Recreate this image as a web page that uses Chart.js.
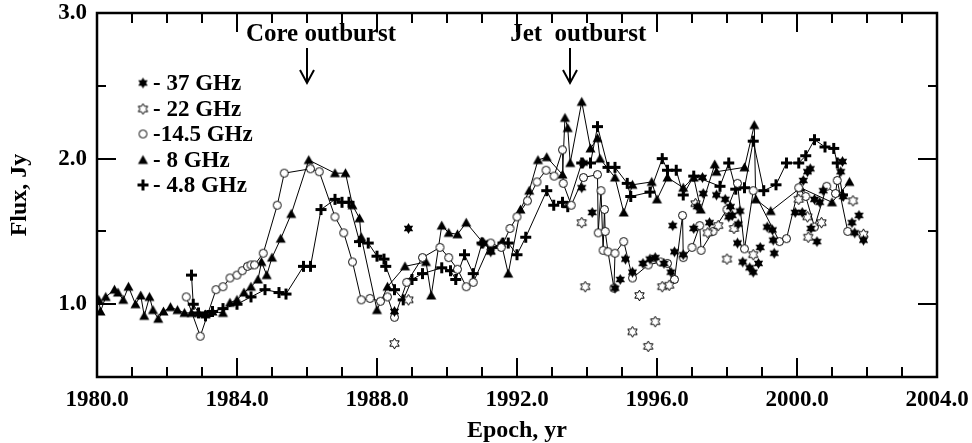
<!DOCTYPE html>
<html>
<head>
<meta charset="utf-8">
<script src="https://cdn.jsdelivr.net/npm/chart.js@4/dist/chart.umd.min.js"></script>
<style>
  html, body { margin: 0; padding: 0; background: #fff; }
</style>
</head>
<body>
<canvas id="fluxChart" width="972" height="443"></canvas>
<script>
// [epoch, flux Jy]
const ghz37 = [
  [1988.5,0.95],[1988.9,1.52],[1991.05,1.42],[1991.25,1.36],[1993.85,1.80],[1993.9,1.97],[1994.15,1.63],
  [1994.8,1.11],[1994.95,1.17],[1995.1,1.31],[1995.3,1.22],[1995.6,1.28],[1995.8,1.31],[1995.95,1.32],
  [1996.2,1.28],[1996.4,1.22],[1996.45,1.54],[1996.5,1.36],[1996.75,1.34],[1997.05,1.52],[1997.15,1.67],
  [1997.3,1.87],[1997.32,1.76],[1997.5,1.56],[1997.7,1.75],[1997.95,1.72],[1998.05,1.60],[1998.1,1.67],
  [1998.15,1.61],[1998.3,1.42],[1998.32,1.55],[1998.37,1.64],[1998.45,1.29],[1998.65,1.25],[1998.75,1.22],
  [1998.9,1.28],[1998.95,1.39],[1999.15,1.53],[1999.3,1.51],[1999.32,1.44],[1999.35,1.35],[1999.95,1.63],
  [2000.15,1.63],[2000.18,1.85],[2000.3,1.91],[2000.38,1.93],[2000.4,1.52],[2000.5,1.72],[2000.57,1.43],
  [2000.65,1.70],[2000.75,1.78],[2001.25,1.91],[2001.3,1.98],[2001.32,1.74],[2001.57,1.56],[2001.65,1.49],
  [2001.77,1.61],[2001.9,1.44]
];
const ghz22 = [
  [1988.5,0.73],[1988.9,1.03],[1993.85,1.56],[1993.95,1.12],[1995.3,0.81],[1995.5,1.06],[1995.75,0.71],
  [1995.95,0.88],[1996.15,1.12],[1996.35,1.13],[1997.1,1.69],[1997.45,1.49],[1997.75,1.54],[1998.0,1.31],
  [1998.2,1.52],[1998.75,1.34],[2000.05,1.72],[2000.3,1.60],[2000.32,1.46],[2000.7,1.56],[2001.6,1.71],
  [2001.9,1.48]
];
const ghz14 = [
  [1982.55,1.05],[1982.95,0.78],[1983.4,1.10],[1983.6,1.12],[1983.8,1.18],[1984.0,1.20],[1984.15,1.23],
  [1984.3,1.26],[1984.4,1.27],[1984.5,1.27],[1984.75,1.35],[1985.15,1.68],[1985.35,1.90],[1986.1,1.93],
  [1986.35,1.91],[1986.8,1.60],[1987.05,1.49],[1987.3,1.29],[1987.55,1.03],[1987.8,1.04],[1988.1,1.02],
  [1988.3,1.05],[1988.5,0.91],[1988.85,1.15],[1989.3,1.32],[1989.8,1.39],[1990.05,1.32],[1990.3,1.24],
  [1990.55,1.12],[1990.75,1.15],[1991.25,1.42],[1991.55,1.39],[1991.8,1.52],[1992.0,1.60],[1992.3,1.71],
  [1992.57,1.84],[1992.83,1.92],[1993.06,1.88],[1993.3,2.06],[1993.32,1.83],[1993.55,1.68],[1993.9,1.87],
  [1994.3,1.89],[1994.32,1.49],[1994.4,1.78],[1994.46,1.37],[1994.5,1.65],[1994.52,1.50],[1994.6,1.36],
  [1994.77,1.11],[1994.8,1.35],[1995.05,1.43],[1995.3,1.18],[1995.75,1.27],[1996.1,1.29],[1996.3,1.28],
  [1996.5,1.17],[1996.73,1.61],[1996.75,1.32],[1997.0,1.39],[1997.22,1.54],[1997.26,1.37],[1997.6,1.50],
  [1998.0,1.65],[1998.3,1.83],[1998.5,1.38],[1998.75,1.78],[1999.5,1.43],[1999.7,1.45],[2000.05,1.80],
  [2000.25,1.74],[2000.5,1.53],[2000.85,1.81],[2001.1,1.76],[2001.15,1.85],[2001.45,1.50]
];
const ghz8 = [
  [1980.05,1.03],[1980.1,0.95],[1980.25,1.05],[1980.5,1.10],[1980.6,1.08],[1980.75,1.03],[1980.9,1.12],
  [1981.1,1.00],[1981.25,1.06],[1981.35,0.92],[1981.5,1.05],[1981.6,0.96],[1981.75,0.90],[1981.9,0.95],
  [1982.1,0.98],[1982.3,0.96],[1982.5,0.94],[1982.7,0.94],[1982.9,0.94],[1983.1,0.93],[1983.3,0.95],
  [1983.6,0.94],[1983.8,1.01],[1984.0,1.03],[1984.2,1.08],[1984.4,1.12],[1984.6,1.17],[1984.7,1.29],
  [1984.85,1.20],[1985.0,1.32],[1985.25,1.45],[1985.55,1.62],[1986.05,1.99],[1986.8,1.90],[1987.1,1.90],
  [1987.3,1.68],[1987.5,1.59],[1987.55,1.46],[1988.0,0.96],[1988.3,1.12],[1988.8,1.26],[1989.4,1.29],
  [1989.55,1.06],[1989.85,1.54],[1990.05,1.49],[1990.3,1.48],[1990.55,1.56],[1991.0,1.43],[1991.25,1.37],
  [1991.55,1.42],[1991.75,1.21],[1992.1,1.65],[1992.35,1.78],[1992.6,1.99],[1992.85,2.01],[1993.3,1.89],
  [1993.37,2.28],[1993.45,2.21],[1993.52,1.97],[1993.85,2.39],[1994.1,2.07],[1994.3,2.14],[1994.37,2.00],
  [1994.8,1.87],[1995.05,1.63],[1995.3,1.82],[1995.85,1.84],[1996.0,1.72],[1996.3,1.87],[1996.75,1.80],
  [1997.05,1.87],[1997.25,1.65],[1997.65,1.96],[1997.7,1.91],[1998.5,1.94],[1998.78,2.23],[1998.82,1.72],
  [1999.25,1.64],[2000.1,1.80],[2001.0,1.70],[2001.5,1.84]
];
const ghz4 = [
  [1982.7,1.20],[1982.75,1.00],[1982.9,0.94],[1983.1,0.92],[1983.3,0.95],[1983.6,0.97],[1984.0,1.00],
  [1984.4,1.05],[1984.8,1.10],[1985.2,1.08],[1985.4,1.07],[1985.9,1.26],[1986.1,1.26],[1986.4,1.65],
  [1986.8,1.72],[1987.0,1.70],[1987.2,1.70],[1987.5,1.43],[1987.75,1.42],[1988.0,1.33],[1988.2,1.31],
  [1988.25,1.26],[1988.5,1.10],[1988.75,1.03],[1989.0,1.17],[1989.3,1.21],[1989.85,1.25],[1990.1,1.23],
  [1990.25,1.17],[1990.5,1.34],[1990.75,1.21],[1991.0,1.42],[1991.3,1.39],[1991.6,1.42],[1991.75,1.42],
  [1992.0,1.34],[1992.25,1.46],[1992.85,1.78],[1993.05,1.68],[1993.3,1.70],[1993.45,1.67],[1993.85,1.97],
  [1994.1,1.97],[1994.3,2.22],[1994.6,1.94],[1994.8,1.94],[1995.15,1.83],[1995.25,1.74],[1995.8,1.77],
  [1996.15,2.00],[1996.3,1.92],[1996.55,1.92],[1996.75,1.75],[1997.05,1.88],[1997.8,1.81],[1998.05,1.97],
  [1998.25,1.79],[1998.5,1.80],[1998.75,2.12],[1999.05,1.78],[1999.4,1.82],[1999.7,1.97],[2000.05,1.97],
  [2000.25,2.02],[2000.5,2.13],[2000.8,2.08],[2001.05,2.07],[2001.15,1.97],[2001.3,1.75]
];

const seriesNames = ['- 37 GHz', '- 22 GHz', '-14.5 GHz', '- 8 GHz', '- 4.8 GHz'];
const xTickValues = [1980, 1984, 1988, 1992, 1996, 2000, 2004];
const yTickValues = [1.0, 2.0, 3.0];
const xMinorValues = [1981,1982,1983,1984,1985,1986,1987,1988,1989,1990,1991,1992,1993,1994,1995,1996,1997,1998,1999,2000,2001,2002,2003];
const yMinorValues = [1.0, 1.5, 2.0, 2.5];
const outbursts = [
  { label: 'Core outburst', epoch: 1986.0, textEpoch: 1986.4 },
  { label: 'Jet  outburst', epoch: 1993.5, textEpoch: 1993.75 }
];

const FONT = '"Liberation Serif", "Times New Roman", serif';

function markerCanvas(kind) {
  const s = 13, m = 6.5;
  const c = document.createElement('canvas');
  c.width = s; c.height = s;
  const g = c.getContext('2d');
  g.fillStyle = '#000';
  g.strokeStyle = '#000';
  g.lineWidth = 1;
  if (kind === 'star' || kind === 'openStar') {
    const R = 5.4, r = R / Math.sqrt(3);
    g.beginPath();
    for (let i = 0; i < 12; i++) {
      const rad = i % 2 === 0 ? R : r;
      const a = -Math.PI / 2 + i * Math.PI / 6;
      const px = m + rad * Math.cos(a), py = m + rad * Math.sin(a);
      if (i) g.lineTo(px, py); else g.moveTo(px, py);
    }
    g.closePath();
    if (kind === 'star') g.fill();
    else { g.fillStyle = '#fff'; g.fill(); g.stroke(); }
  } else if (kind === 'circle') {
    g.beginPath();
    g.arc(m, m, 4, 0, Math.PI * 2);
    g.fillStyle = '#fff';
    g.fill();
    g.stroke();
  } else if (kind === 'triangle') {
    g.beginPath();
    g.moveTo(m, m - 5);
    g.lineTo(m + 5, m + 4);
    g.lineTo(m - 5, m + 4);
    g.closePath();
    g.fill();
  } else if (kind === 'cross') {
    g.fillRect(1, 5, 11, 3);
    g.fillRect(5, 1, 3, 11);
  }
  return c;
}

const markers = [
  markerCanvas('star'),
  markerCanvas('openStar'),
  markerCanvas('circle'),
  markerCanvas('triangle'),
  markerCanvas('cross')
];

const toPoints = arr => arr.map(p => ({ x: p[0], y: p[1] }));

function dataset(i, arr, connected) {
  return {
    label: seriesNames[i],
    data: toPoints(arr),
    showLine: connected,
    borderColor: '#000',
    backgroundColor: '#000',
    borderWidth: 1,
    pointStyle: markers[i],
    pointRadius: 5,
    pointBorderWidth: 0,
    tension: 0
  };
}

function seg(ctx, x1, y1, x2, y2) {
  ctx.beginPath();
  ctx.moveTo(x1, y1);
  ctx.lineTo(x2, y2);
  ctx.stroke();
}

const framePlugin = {
  id: 'frame',
  afterDraw(chart) {
    const ctx = chart.ctx;
    const a = chart.chartArea;
    const xs = chart.scales.x, ys = chart.scales.y;
    ctx.save();
    ctx.strokeStyle = '#000000';
    ctx.fillStyle = '#000000';
    ctx.lineWidth = 2;
    for (const v of xMinorValues) {
      const px = Math.round(xs.getPixelForValue(v));
      const len = (v - 1980) % 4 === 0 ? 19 : 10;
      seg(ctx, px, a.bottom, px, a.bottom - len);
      seg(ctx, px, a.top, px, a.top + len);
    }
    for (const v of yMinorValues) {
      const py = Math.round(ys.getPixelForValue(v));
      const len = v % 1 === 0 ? 19 : 9;
      seg(ctx, a.left, py, a.left + len, py);
      seg(ctx, a.right, py, a.right - len, py);
    }
    ctx.lineWidth = 2.5;
    ctx.strokeRect(a.left, a.top, a.right - a.left, a.bottom - a.top);

    // outburst labels and arrows
    ctx.font = 'bold 25px ' + FONT;
    ctx.textAlign = 'center';
    ctx.textBaseline = 'alphabetic';
    ctx.lineWidth = 2;
    for (const o of outbursts) {
      ctx.fillText(o.label, xs.getPixelForValue(o.textEpoch), a.top + 28);
      const ax = Math.round(xs.getPixelForValue(o.epoch));
      const tip = a.top + 70;
      seg(ctx, ax, a.top + 35, ax, tip);
      ctx.beginPath();
      ctx.moveTo(ax - 7, tip - 13); ctx.lineTo(ax, tip); ctx.lineTo(ax + 7, tip - 13);
      ctx.stroke();
    }

    // legend
    ctx.font = 'bold 23px ' + FONT;
    ctx.textAlign = 'left';
    seriesNames.forEach((name, i) => {
      const cy = a.top + 70 + i * 25.5;
      ctx.drawImage(markers[i], a.left + 46 - 6.5, Math.round(cy) - 6.5);
      ctx.fillText(name, a.left + 56, cy + 7);
    });
    ctx.restore();
  }
};

Chart.defaults.font.family = FONT;
Chart.defaults.color = '#000';

new Chart(document.getElementById('fluxChart'), {
  type: 'scatter',
  data: {
    datasets: [
      dataset(0, ghz37, false),
      dataset(1, ghz22, false),
      dataset(2, ghz14, true),
      dataset(3, ghz8, true),
      dataset(4, ghz4, true)
    ]
  },
  options: {
    responsive: false,
    animation: false,
    layout: { padding: { left: 0, right: 35, top: 13, bottom: 0 } },
    plugins: { legend: { display: false }, tooltip: { enabled: false } },
    scales: {
      x: {
        type: 'linear',
        min: 1980,
        max: 2004,
        afterBuildTicks: s => { s.ticks = xTickValues.map(v => ({ value: v })); },
        afterFit: s => { s.height = 66; s.paddingLeft = 0; s.paddingRight = 0; },
        grid: { display: false, drawTicks: false },
        border: { display: false },
        ticks: {
          padding: 12,
          maxRotation: 0,
          autoSkip: false,
          font: { size: 23, weight: 'bold', lineHeight: 1 },
          callback: v => v.toFixed(1)
        },
        title: {
          display: true,
          text: 'Epoch, yr',
          font: { size: 24, weight: 'bold', lineHeight: 1 },
          padding: { top: 0, bottom: 0 }
        }
      },
      y: {
        type: 'linear',
        min: 0.5,
        max: 3.0,
        afterBuildTicks: s => { s.ticks = yTickValues.map(v => ({ value: v })); },
        afterFit: s => { s.width = 97; s.paddingTop = 0; s.paddingBottom = 0; },
        grid: { display: false, drawTicks: false },
        border: { display: false },
        ticks: {
          padding: 10,
          autoSkip: false,
          font: { size: 23, weight: 'bold', lineHeight: 1 },
          callback: v => v.toFixed(1)
        },
        title: {
          display: true,
          text: 'Flux, Jy',
          font: { size: 24, weight: 'bold', lineHeight: 1 },
          padding: { top: 8, bottom: 0 }
        }
      }
    }
  },
  plugins: [framePlugin]
});
</script>
</body>
</html>
